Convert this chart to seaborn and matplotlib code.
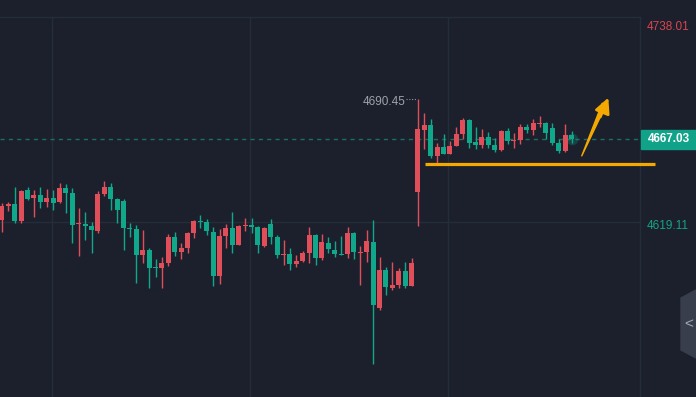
import seaborn as sns
import matplotlib
matplotlib.use('Agg')
import matplotlib.pyplot as plt
import numpy as np
from matplotlib.patches import Rectangle, Polygon

# 1分钟K线 (开, 高, 低, 收)
opens = [4620.6,4628.5,4629.7,4620.0,4637.8,4632.8,4634.9,4630.8,4633.2,4630.8,
         4639.0,4636.1,4617.8,4618.1,4616.9,4614.2,4635.5,4639.5,4632.6,4631.4,
         4615.4,4615.2,4600.3,4603.0,4592.7,4592.7,4595.6,4610.5,4602.0,4604.2,
         4612.9,4619.8,4619.2,4613.4,4587.9,4611.1,4615.8,4605.9,4616.9,4617.5,
         4616.3,4605.3,4618.1,4610.5,4600.1,4600.7,4594.9,4596.6,4601.3,4611.7,
         4598.4,4607.1,4603.0,4600.7,4600.7,4612.9,4601.3,4601.8,4607.6,4569.4,
         4591.4,4581.0,4582.7,4590.8,4582.1,4636.6,4672.6,4675.5,4657.5,4662.7,
         4658.7,4663.3,4670.3,4678.4,4665.6,4663.9,4668.5,4663.9,4661.0,4672.0,
         4666.2,4666.8,4674.3,4672.6,4676.1,4676.7,4673.8,4665.1,4660.4,4669.7]
highs = [4630.3,4630.8,4639.5,4637.5,4639.4,4637.8,4639.4,4638.2,4637.8,4641.9,
         4641.3,4639.0,4627.0,4625.0,4619.2,4637.2,4643.0,4641.9,4633.2,4632.6,
         4618.3,4617.3,4614.6,4604.2,4597.8,4598.9,4612.1,4613.4,4607.1,4613.6,
         4620.6,4623.3,4621.0,4616.3,4615.2,4618.1,4625.0,4617.2,4621.6,4621.6,
         4616.6,4616.3,4621.0,4611.7,4608.8,4604.2,4600.1,4602.4,4616.3,4612.3,
         4612.3,4610.5,4608.2,4611.1,4616.3,4613.2,4605.3,4614.6,4620.4,4598.9,
         4593.1,4596.0,4592.6,4596.0,4598.4,4690.45,4682.5,4679.0,4665.1,4670.3,
         4666.2,4674.3,4679.6,4679.0,4674.3,4673.2,4671.4,4668.0,4672.6,4673.8,
         4670.9,4676.1,4676.1,4679.0,4680.7,4677.2,4676.7,4667.4,4676.1,4672.0]
lows = [4613.4,4625.6,4618.3,4618.8,4632.0,4622.3,4627.5,4628.1,4626.4,4630.3,
        4624.6,4607.2,4599.7,4609.0,4601.4,4613.0,4634.1,4626.4,4618.3,4603.2,
        4610.7,4584.0,4595.6,4581.1,4587.5,4581.1,4593.9,4599.7,4597.8,4600.9,
        4609.6,4615.9,4611.7,4582.1,4583.3,4604.2,4601.3,4605.6,4614.0,4612.9,
        4601.3,4604.7,4606.5,4598.4,4594.3,4591.4,4593.1,4596.0,4595.5,4594.3,
        4597.2,4601.3,4598.9,4599.8,4598.4,4597.8,4582.7,4596.0,4536.9,4568.2,
        4576.9,4579.8,4581.0,4581.0,4581.8,4616.9,4661.6,4656.4,4653.5,4658.4,
        4658.4,4663.0,4667.4,4662.2,4661.6,4662.2,4662.2,4659.8,4660.4,4664.5,
        4662.2,4664.5,4670.9,4669.7,4674.3,4667.4,4663.9,4659.3,4659.8,4665.1]
closes = [4628.5,4629.7,4620.0,4637.2,4632.6,4634.9,4630.8,4633.2,4630.3,4639.0,
          4636.1,4617.7,4618.1,4617.1,4614.8,4635.5,4639.5,4632.6,4626.4,4615.4,
          4615.0,4600.3,4603.0,4592.7,4592.2,4595.5,4610.5,4602.0,4604.2,4612.9,
          4619.8,4619.2,4614.0,4587.9,4611.1,4615.8,4605.9,4616.9,4617.5,4616.3,
          4605.9,4615.8,4610.5,4600.1,4600.7,4594.9,4596.6,4601.3,4611.7,4598.4,
          4607.6,4603.6,4600.7,4600.1,4612.9,4601.8,4601.8,4608.2,4571.1,4591.4,
          4581.5,4582.7,4590.8,4582.1,4595.5,4673.2,4675.5,4657.5,4662.7,4658.7,
          4663.3,4670.3,4678.4,4665.1,4663.9,4668.5,4663.9,4661.0,4672.0,4666.2,
          4666.8,4674.3,4672.6,4676.7,4676.7,4670.9,4665.1,4660.4,4669.7,4667.03]

price_max = 4738.01
price_min = 4619.11
last_price = 4667.03
high_mark = 4690.45
support = 4652.9

bg = '#1b202c'
grid_c = '#252c3a'
up_c = '#e04e5a'
down_c = '#11a78a'
gold = '#f5a800'

sns.set_style('dark', rc={'axes.facecolor': bg, 'figure.facecolor': bg,
                          'axes.edgecolor': grid_c, 'grid.color': grid_c})
plt.rcParams['font.family'] = ['Liberation Sans', 'DejaVu Sans']

fig = plt.figure(figsize=(6.96, 3.97), dpi=100)
ax = fig.add_axes([0, 0, 640 / 696, 380 / 397])

o = np.array(opens)
c = np.array(closes)
h = np.array(highs)
l = np.array(lows)
x = np.arange(len(o))
colors = np.where(c >= o, up_c, down_c)

ax.vlines(x, l, h, colors=colors, linewidth=1.0, zorder=3)
body = np.maximum(np.abs(c - o), 0.6)
ax.bar(x, body, bottom=np.minimum(o, c), width=0.78, color=colors,
       linewidth=0, zorder=4)
# 最新K线的光晕
ax.scatter([x[-1]], [c[-1]], s=70, color=down_c, alpha=0.25, linewidth=0, zorder=2)

ax.set_xlim(-0.3, 99.7)
ax.set_ylim(4517.7, price_max)
ax.set_xticks([7.9, 38.8, 69.75])
ax.set_yticks([price_min])
ax.set_xticklabels([])
ax.set_yticklabels([])
ax.tick_params(length=0)
ax.grid(True, color=grid_c, linewidth=1)
for side in ['left', 'bottom']:
    ax.spines[side].set_visible(False)
for side in ['top', 'right']:
    ax.spines[side].set_visible(True)
    ax.spines[side].set_color(grid_c)
    ax.spines[side].set_linewidth(1)

# 最新价虚线
ax.axhline(last_price, color='#1c6e60', linewidth=1, linestyle=(0, (3, 3)), zorder=1)

# 最高价标注
hi_i = int(np.argmax(h))
ax.plot([hi_i - 1.8, hi_i - 0.1], [high_mark, high_mark], color='#8e939d',
        linewidth=0.8, linestyle=(0, (1, 1.5)))
ax.text(hi_i - 1.9, high_mark - 1.8, f'{high_mark:.2f}', color='#9da2ab',
        fontsize=8.5, ha='right', va='center')

# 支撑线与箭头
ax.plot([66.1, 102.0], [support, support], color=gold, linewidth=2.3,
        solid_capstyle='butt', clip_on=False, zorder=6)
ax.annotate('', xy=(90.6, 4657.5), xytext=(94.1, 4687.5),
            arrowprops=dict(arrowstyle='wedge,tail_width=0.3,shrink_factor=0.5',
                            color=gold, shrinkA=0, shrinkB=0), zorder=6)
ax.annotate('', xy=(94.75, 4691.2), xytext=(93.5, 4680.0),
            arrowprops=dict(arrowstyle='-|>,head_length=0.7,head_width=0.35',
                            mutation_scale=13, color=gold, lw=2,
                            shrinkA=0, shrinkB=0), zorder=6)

# 右侧价格轴
def fy(py):
    return 1 - py / 397

fig.text(647 / 696, fy(27), f'{price_max:.2f}', color='#d9454f', fontsize=8.5,
         ha='left', va='center')
fig.text(647 / 696, fy(226), f'{price_min:.2f}', color='#16a387', fontsize=8.5,
         ha='left', va='center')
fig.patches.append(Rectangle((641 / 696, fy(148.5)), 55 / 696, 18.5 / 397,
                             transform=fig.transFigure, color='#10a38a'))
fig.text(668.5 / 696, fy(139.5), f'{last_price:.2f}', color='white', fontsize=8.5,
         fontweight='bold', ha='center', va='center')

# 右侧折叠按钮
tab = [(696, 290), (681, 298), (681, 350), (696, 358)]
fig.patches.append(Polygon([(px / 696, fy(py)) for px, py in tab], closed=True,
                           transform=fig.transFigure, color='#393e4c'))
fig.text(689 / 696, fy(324), '<', color='#a3a8b2', fontsize=11,
         ha='center', va='center')

fig.savefig('out.png', dpi=100, facecolor=bg)
